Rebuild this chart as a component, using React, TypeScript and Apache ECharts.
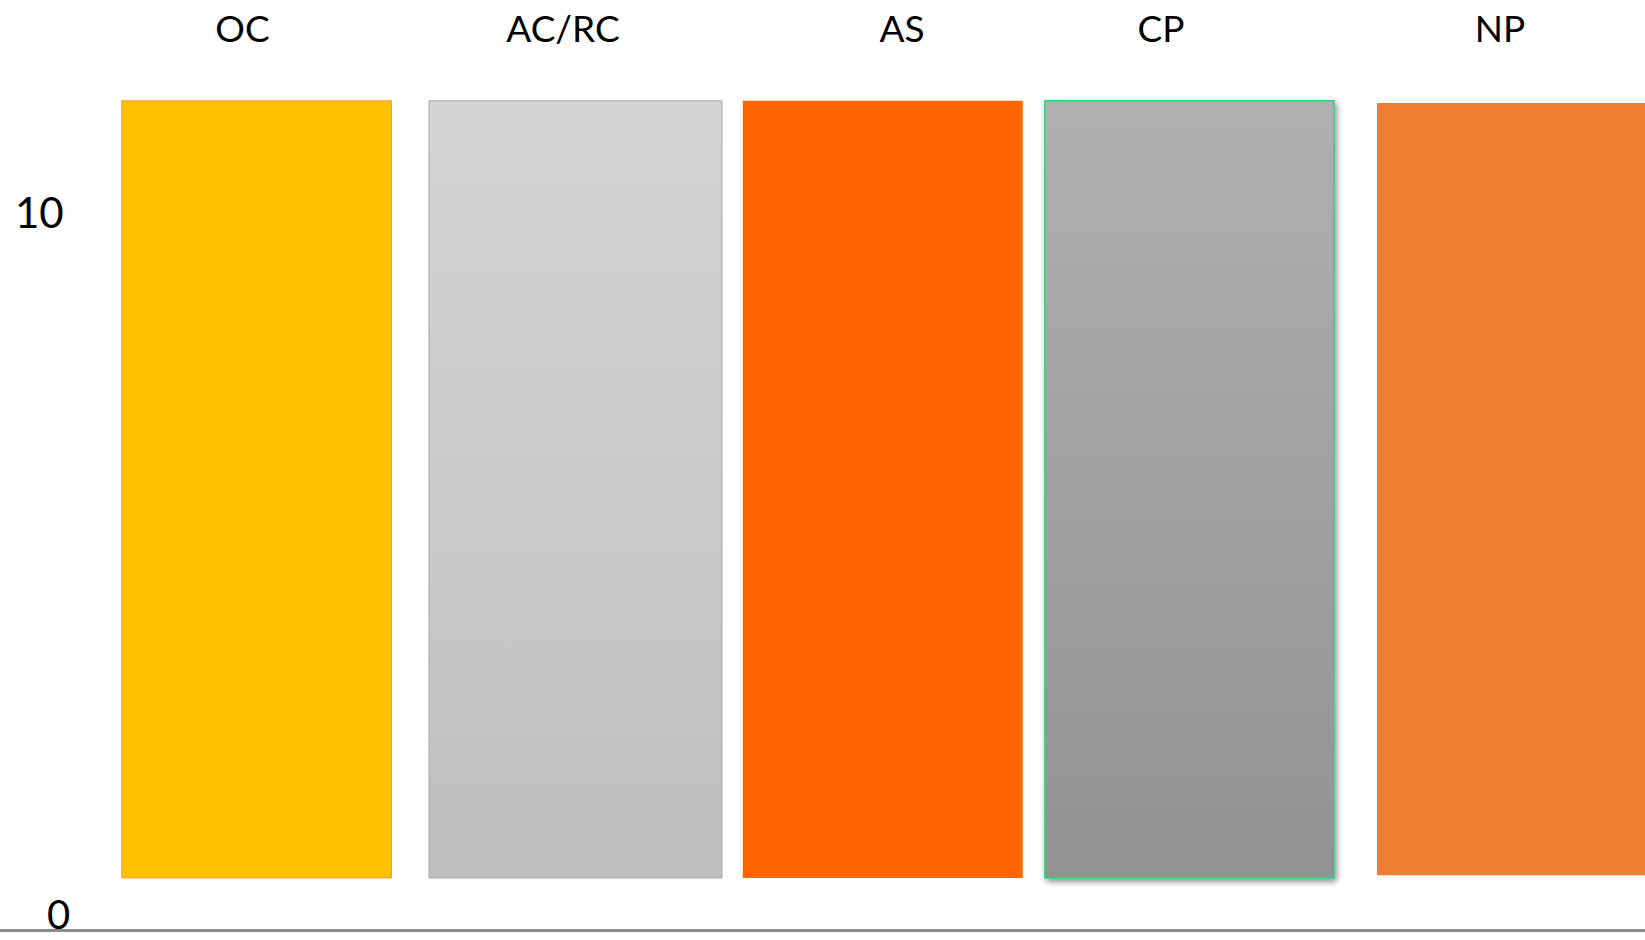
import React, { useEffect, useRef } from "react";
import * as echarts from "echarts";

// Category names (drawn above each block)
const categories = ["OC", "AC/RC", "AS", "CP", "NP"];
// Horizontal extent of each block on the (hidden) horizontal value scale
const xStart = [121.7, 429, 742.8, 1044.9, 1377];
const xEnd = [391.5, 722, 1022.8, 1334, 1645];
// Vertical extent of each block on the y value scale
const lowValues = [0.738, 0.738, 0.738, 0.738, 0.775];
const highValues = [11.76, 11.76, 11.76, 11.76, 11.73];
// Where each category name sits on the horizontal scale
const labelX = [242.5, 563, 902, 1161, 1500];
const labelY = 12.8;
// Y-axis tick labels
const yTicks = [0, 10];

const fills: any[] = [
  "#FFC000",
  new echarts.graphic.LinearGradient(0, 0, 0, 1, [
    { offset: 0, color: "#D4D4D4" },
    { offset: 1, color: "#BFBFBF" },
  ]),
  "#FF6600",
  new echarts.graphic.LinearGradient(0, 0, 0, 1, [
    { offset: 0, color: "#B0B0B0" },
    { offset: 1, color: "#929292" },
  ]),
  "#ED7D31",
];
const borders = ["#F29A4A", "#A6A6A6", "#FF8A40", "#2ED47A", "#F4A070"];
const borderWidths = [1, 1, 0, 1.5, 0];

export default function App() {
  const ref = useRef<HTMLDivElement>(null);
  useEffect(() => {
    if (!ref.current) return;
    const chart = echarts.init(ref.current, null, { renderer: "svg" });
    const option: any = {
      animation: false,
      backgroundColor: "#ffffff",
      grid: { left: 0, right: 0, top: 0, bottom: 5, containLabel: false },
      xAxis: {
        type: "value",
        min: 0,
        max: 1645,
        axisLine: { show: true, lineStyle: { color: "#8C8C8C", width: 3 } },
        axisTick: { show: false },
        axisLabel: { show: false },
        splitLine: { show: false },
      },
      yAxis: {
        type: "value",
        min: 0,
        max: 13.19,
        interval: 10,
        axisLine: { show: false },
        axisTick: { show: false },
        splitLine: { show: false },
        axisLabel: {
          inside: true,
          customValues: yTicks,
          margin: 15,
          align: "left",
          verticalAlign: "bottom",
          lineHeight: 26,
          fontFamily: "Lato",
          fontSize: 42,
          color: "#000000",
          formatter: (v: number) => (v === 0 ? "{z|0}" : "{t|" + v + "}"),
          rich: {
            z: { padding: [0, 0, 6, 32], fontFamily: "Lato", fontSize: 40, lineHeight: 26, color: "#000" },
            t: { fontFamily: "Lato", fontSize: 42, lineHeight: 26, color: "#000" },
          },
        },
      },
      series: [
        {
          type: "custom",
          clip: false,
          encode: { x: [0, 1, 4], y: [2, 3] },
          data: categories.map((c, i) => [xStart[i], xEnd[i], lowValues[i], highValues[i], labelX[i], labelY]),
          renderItem: (params: any, api: any) => {
            const i = params.dataIndex;
            const tl = api.coord([api.value(0), api.value(3)]);
            const br = api.coord([api.value(1), api.value(2)]);
            const lp = api.coord([api.value(4), api.value(5)]);
            const shadow =
              i === 3
                ? { shadowBlur: 6, shadowOffsetX: 2, shadowOffsetY: 3, shadowColor: "rgba(0,0,0,0.45)" }
                : {};
            return {
              type: "group",
              children: [
                {
                  type: "rect",
                  shape: { x: tl[0], y: tl[1], width: br[0] - tl[0], height: br[1] - tl[1] },
                  style: {
                    fill: fills[i],
                    stroke: borderWidths[i] > 0 ? borders[i] : null,
                    lineWidth: borderWidths[i],
                    ...shadow,
                  },
                },
                {
                  type: "text",
                  style: {
                    text: categories[i],
                    x: lp[0],
                    y: lp[1],
                    align: "center",
                    verticalAlign: "middle",
                    fontFamily: "Lato",
                    fontSize: 37,
                    fill: "#000000",
                  },
                },
              ],
            };
          },
        },
      ],
    };
    chart.setOption(option);
    return () => chart.dispose();
  }, []);
  return (
    <div
      ref={ref}
      style={{ position: "fixed", left: 0, top: 0, width: 1645, height: 940 }}
    />
  );
}
